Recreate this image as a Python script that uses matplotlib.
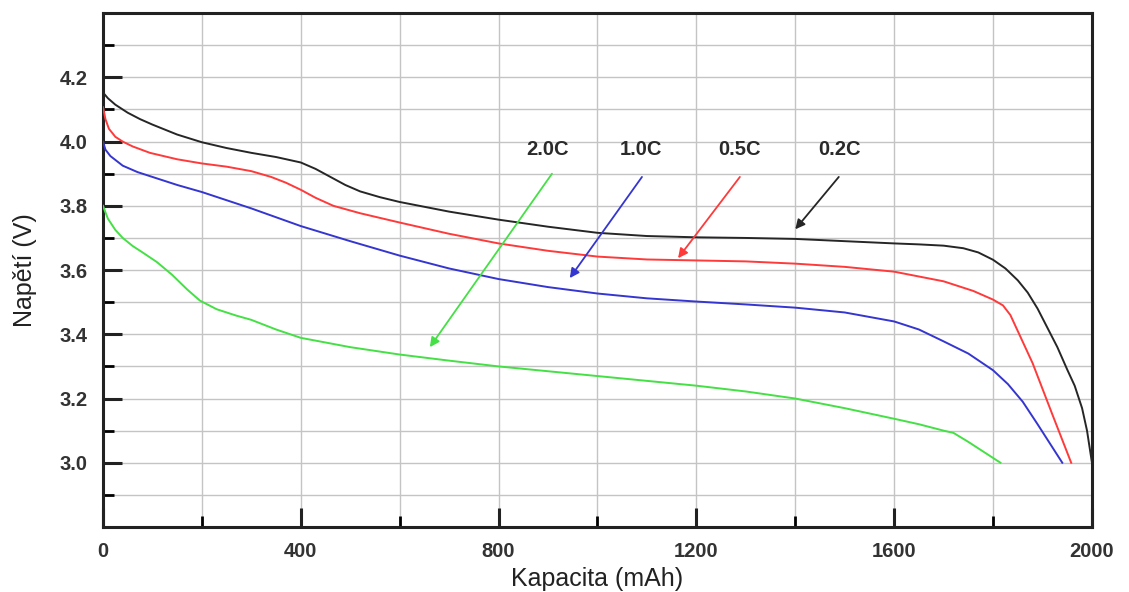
import matplotlib
matplotlib.use("Agg")
import matplotlib.pyplot as plt
from matplotlib.ticker import MultipleLocator, FixedLocator

plt.rcParams['font.family'] = ['Liberation Sans', 'DejaVu Sans']

# --- data ---
x_02 = [0, 10, 25, 50, 75, 100, 150, 200, 250, 300, 350, 400, 430, 460, 490, 520, 560, 600, 700, 800,
        900, 1000, 1100, 1200, 1300, 1400, 1500, 1600, 1650, 1700, 1740, 1770, 1800, 1825, 1850, 1870,
        1890, 1910, 1930, 1950, 1965, 1980, 1990, 2000]
y_02 = [4.153, 4.135, 4.115, 4.09, 4.07, 4.053, 4.022, 3.998, 3.98, 3.965, 3.952, 3.935, 3.915, 3.89,
        3.865, 3.845, 3.827, 3.812, 3.782, 3.757, 3.735, 3.716, 3.706, 3.702, 3.70, 3.697, 3.69, 3.683,
        3.68, 3.676, 3.668, 3.655, 3.632, 3.605, 3.568, 3.53, 3.48, 3.42, 3.36, 3.29, 3.24, 3.17, 3.10, 3.0]

x_05 = [0, 5, 12, 25, 40, 60, 95, 150, 200, 250, 300, 340, 370, 400, 430, 466, 520, 600, 700, 800, 900,
        1000, 1100, 1200, 1300, 1400, 1500, 1600, 1700, 1760, 1800, 1820, 1835, 1850, 1880, 1920, 1958]
y_05 = [4.107, 4.07, 4.04, 4.015, 4.0, 3.985, 3.965, 3.945, 3.932, 3.922, 3.908, 3.89, 3.872, 3.85, 3.825,
        3.80, 3.777, 3.748, 3.713, 3.683, 3.66, 3.642, 3.633, 3.63, 3.627, 3.62, 3.61, 3.595, 3.565, 3.535,
        3.508, 3.49, 3.46, 3.41, 3.31, 3.15, 3.0]

x_10 = [0, 5, 15, 40, 70, 100, 150, 200, 300, 400, 500, 600, 700, 800, 900, 1000, 1100, 1200, 1300, 1400,
        1500, 1600, 1650, 1700, 1750, 1800, 1830, 1860, 1890, 1915, 1940]
y_10 = [4.0, 3.975, 3.955, 3.925, 3.905, 3.89, 3.865, 3.843, 3.792, 3.737, 3.69, 3.645, 3.605, 3.572,
        3.547, 3.527, 3.512, 3.502, 3.493, 3.483, 3.468, 3.44, 3.415, 3.378, 3.34, 3.288, 3.245, 3.19,
        3.12, 3.06, 3.0]

x_20 = [0, 10, 25, 40, 60, 80, 109, 140, 170, 196, 230, 270, 300, 350, 400, 500, 600, 700, 800, 900, 1000,
        1100, 1200, 1300, 1400, 1500, 1600, 1650, 1700, 1720, 1750, 1780, 1815]
y_20 = [3.80, 3.76, 3.725, 3.70, 3.675, 3.655, 3.625, 3.585, 3.54, 3.505, 3.478, 3.458, 3.445, 3.415, 3.389,
        3.36, 3.337, 3.318, 3.30, 3.285, 3.27, 3.255, 3.24, 3.222, 3.20, 3.17, 3.137, 3.12, 3.10, 3.093,
        3.065, 3.035, 3.0]

labels = ["2.0C", "1.0C", "0.5C", "0.2C"]
label_x = [898, 1088, 1288, 1490]
label_y = [3.945, 3.945, 3.945, 3.945]
arrow_tail_x = [908, 1090, 1288, 1488]
arrow_tail_y = [3.90, 3.89, 3.89, 3.89]
arrow_head_x = [661, 944, 1163, 1400]
arrow_head_y = [3.36, 3.575, 3.637, 3.727]

xticks = [0, 400, 800, 1200, 1600, 2000]
yticks = [3.0, 3.2, 3.4, 3.6, 3.8, 4.0, 4.2]

c_black = "#262626"
c_red = "#ff3a3a"
c_blue = "#3535d0"
c_green = "#45e045"
colors = [c_green, c_blue, c_red, c_black]

fig = plt.figure(figsize=(11.29, 5.92), dpi=100)
ax = fig.add_axes([0.0912, 0.1098, 0.876, 0.868])

ax.set_xlim(0, 2000)
ax.set_ylim(2.8, 4.4)

ax.plot(x_02, y_02, color=c_black, lw=1.4, zorder=3)
ax.plot(x_05, y_05, color=c_red, lw=1.4, zorder=3)
ax.plot(x_10, y_10, color=c_blue, lw=1.4, zorder=3)
ax.plot(x_20, y_20, color=c_green, lw=1.4, zorder=3)

for lab, lx, ly, tx, ty, hx, hy, col in zip(labels, label_x, label_y, arrow_tail_x, arrow_tail_y,
                                            arrow_head_x, arrow_head_y, colors):
    ax.text(lx, ly, lab, ha='center', va='bottom', fontsize=14.5, fontweight='bold', color='#2a2a2a', zorder=5)
    ax.annotate("", xy=(hx, hy), xytext=(tx, ty),
                arrowprops=dict(arrowstyle="-|>", color=col, lw=1.3, mutation_scale=14,
                                shrinkA=0, shrinkB=0), zorder=4)

ax.xaxis.set_major_locator(FixedLocator(xticks))
ax.xaxis.set_minor_locator(MultipleLocator(200))
ax.yaxis.set_major_locator(FixedLocator(yticks))
ax.yaxis.set_minor_locator(MultipleLocator(0.1))

ax.set_xticklabels([str(v) for v in xticks])
ax.set_yticklabels([f"{v:.1f}" for v in yticks])

ax.grid(True, which='both', color='#c4c4c4', lw=1.0, zorder=0)
ax.set_axisbelow(True)

ax.tick_params(axis='both', which='major', direction='in', length=14, width=2.2,
               labelsize=14.5, colors='#222222', top=False, right=False)
ax.tick_params(axis='both', which='minor', direction='in', length=8, width=2.0,
               top=False, right=False)
ax.tick_params(axis='x', which='major', pad=11)
ax.tick_params(axis='y', which='major', pad=11)

for lab in ax.get_xticklabels() + ax.get_yticklabels():
    lab.set_fontweight('bold')
    lab.set_color('#333333')

for sp in ax.spines.values():
    sp.set_linewidth(2.2)
    sp.set_color('#222222')

ax.set_xlabel("Kapacita (mAh)", fontsize=18, color='#222222', labelpad=4)
ax.set_ylabel("Napětí (V)", fontsize=18, color='#222222', labelpad=16)

fig.savefig("out.png", dpi=100, facecolor='white')
